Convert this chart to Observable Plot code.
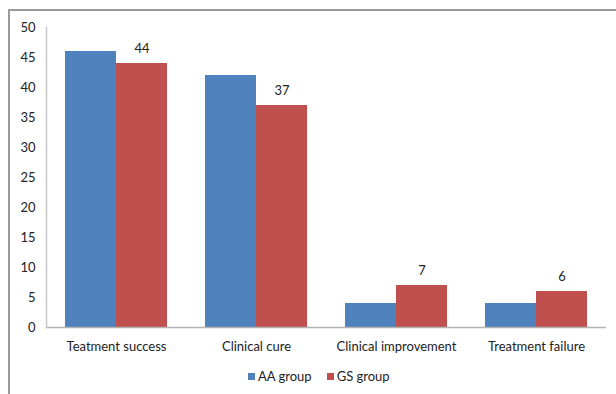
<!DOCTYPE html>
<html>
<head>
<meta charset="utf-8">
<script src="https://cdn.jsdelivr.net/npm/d3@7"></script>
<script src="https://cdn.jsdelivr.net/npm/@observablehq/plot@0.6"></script>
<style>
  html, body { margin: 0; padding: 0; background: #fff; }
  #wrap { position: relative; width: 616px; height: 394px; overflow: hidden; font-family: Lato, "Open Sans", sans-serif; }
  #border { position: absolute; left: 8px; top: 9px; width: 700px; height: 500px; border-left: 2px solid #9a9a9a; border-top: 2px solid #9a9a9a; box-sizing: border-box; }
  #chart { position: absolute; left: 0; top: 0; }
  #legend { position: absolute; left: 248px; top: 368px; display: flex; align-items: center; font-size: 13px; color: #222; }
  .item { display: flex; align-items: center; margin-right: 15px; }
  .sw { width: 7px; height: 7px; margin-right: 3px; }
</style>
</head>
<body>
<div id="wrap">
  <div id="border"></div>
  <div id="chart"></div>
  <div id="legend"></div>
</div>
<script>
const categories = ["Teatment success", "Clinical cure", "Clinical improvement", "Treatment failure"];
const groups = ["AA group", "GS group"];
const aaValues = [46, 42, 4, 4];
const gsValues = [44, 37, 7, 6];
const colors = ["#4F81BD", "#C0504D"];
const yTicks = [0, 5, 10, 15, 20, 25, 30, 35, 40, 45, 50];

const data = [];
categories.forEach((c, i) => {
  data.push({category: c, group: groups[0], value: aaValues[i]});
  data.push({category: c, group: groups[1], value: gsValues[i]});
});

const font = "Lato, 'Open Sans', sans-serif";

const chart = Plot.plot({
  width: 616,
  height: 360,
  marginLeft: 44,
  marginRight: 9,
  marginTop: 27,
  marginBottom: 33,
  style: {fontFamily: font, fontSize: "13px", color: "#222", background: "transparent", overflow: "visible"},
  y: {domain: [0, 50], ticks: yTicks, tickSize: 0, tickPadding: 11, label: null},
  fx: {domain: categories, padding: 0, label: null, tickSize: 0, tickPadding: 14, axis: "bottom"},
  x: {domain: groups, paddingInner: 0, paddingOuter: 0.37, axis: null},
  color: {domain: groups, range: colors},
  marks: [
    Plot.barY(data, {fx: "category", x: "group", y: "value", fill: "group"}),
    Plot.text(data.filter(d => d.group === groups[1]), {fx: "category", x: "group", y: "value", text: d => String(d.value), dy: -15, fill: "#222", fontSize: 13}),
    Plot.ruleY([0], {stroke: "#b3b3b3", strokeWidth: 1.5}),
    Plot.frame({anchor: "left", facetAnchor: "left", stroke: "#c8c8c8", strokeWidth: 1.5})
  ]
});
document.getElementById("chart").appendChild(chart);

const legend = document.getElementById("legend");
groups.forEach((g, i) => {
  const item = document.createElement("div");
  item.className = "item";
  const sw = document.createElement("div");
  sw.className = "sw";
  sw.style.background = colors[i];
  const lab = document.createElement("span");
  lab.textContent = g;
  item.appendChild(sw);
  item.appendChild(lab);
  legend.appendChild(item);
});
</script>
</body>
</html>
